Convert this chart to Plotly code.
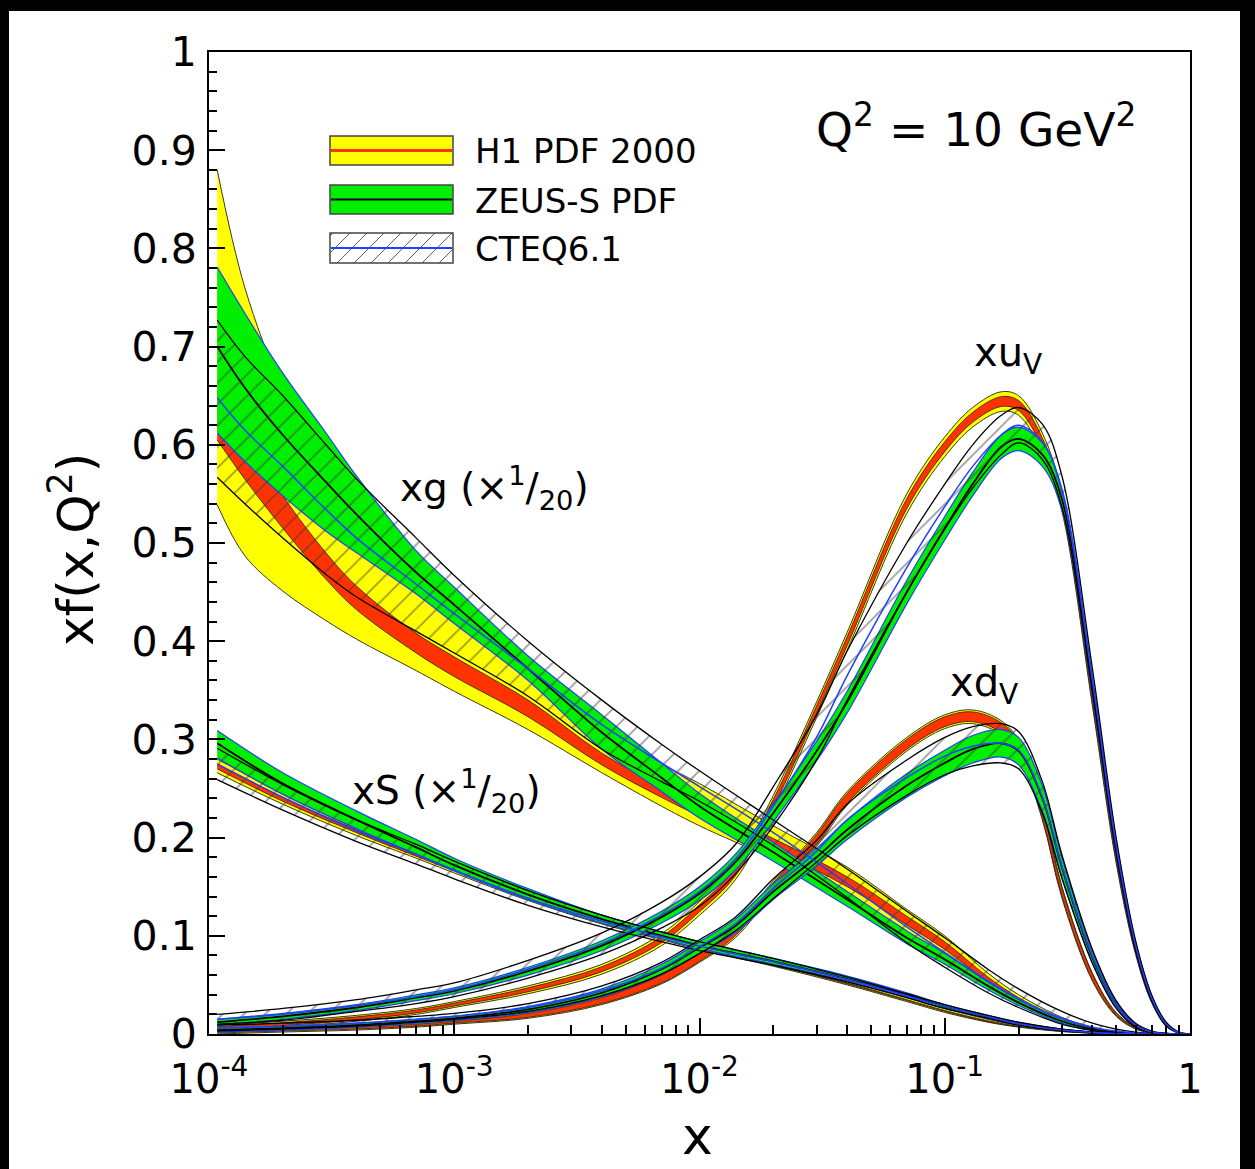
import plotly.graph_objects as go

# ---------------- data ----------------
# x grid for the gluon
x_g = [1.08e-4, 1.4e-4, 2e-4, 3e-4, 4e-4, 7e-4, 1e-3, 2e-3, 4e-3, 7e-3, 1e-2, 2e-2, 4e-2, 7e-2,
       0.1, 0.15, 0.2, 0.3, 0.4, 0.5, 0.6, 0.7, 0.8, 1.0]

# gluon xg/20
h1_g_tot_hi = [0.880, 0.760, 0.655, 0.570, 0.530, 0.460, 0.430, 0.370, 0.310, 0.275, 0.255, 0.212, 0.170, 0.127, 0.100, 0.062, 0.040, 0.017, 0.007, 0.0025, 0.0008, 0.0002, 0.0, 0.0]
h1_g_tot_lo = [0.539, 0.487, 0.451, 0.421, 0.402, 0.370, 0.349, 0.310, 0.266, 0.232, 0.212, 0.178, 0.140, 0.103, 0.080, 0.050, 0.031, 0.012, 0.0045, 0.0015, 0.0005, 0.0001, 0.0, 0.0]
h1_g_exp_hi = [0.655, 0.610, 0.548, 0.490, 0.456, 0.408, 0.384, 0.340, 0.286, 0.252, 0.233, 0.199, 0.160, 0.120, 0.094, 0.058, 0.037, 0.015, 0.006, 0.002, 0.0007, 0.0002, 0.0, 0.0]
h1_g_exp_lo = [0.605, 0.565, 0.515, 0.463, 0.432, 0.388, 0.364, 0.323, 0.274, 0.241, 0.222, 0.188, 0.150, 0.111, 0.086, 0.053, 0.033, 0.013, 0.005, 0.0017, 0.0005, 0.0001, 0.0, 0.0]
zeus_g_hi = [0.781, 0.734, 0.673, 0.612, 0.568, 0.492, 0.455, 0.385, 0.325, 0.276, 0.245, 0.195, 0.145, 0.105, 0.082, 0.053, 0.035, 0.015, 0.006, 0.002, 0.0007, 0.0002, 0.0, 0.0]
zeus_g_lo = [0.612, 0.583, 0.548, 0.512, 0.490, 0.448, 0.418, 0.360, 0.290, 0.247, 0.220, 0.176, 0.130, 0.092, 0.071, 0.045, 0.029, 0.011, 0.004, 0.0013, 0.0004, 0.0001, 0.0, 0.0]
zeus_g_c = [0.700, 0.658, 0.610, 0.562, 0.529, 0.470, 0.437, 0.372, 0.307, 0.261, 0.232, 0.185, 0.137, 0.098, 0.076, 0.049, 0.032, 0.013, 0.005, 0.0016, 0.0005, 0.00015, 0.0, 0.0]
cteq_g_hi = [0.727, 0.690, 0.650, 0.600, 0.565, 0.505, 0.467, 0.400, 0.340, 0.295, 0.268, 0.218, 0.168, 0.125, 0.098, 0.066, 0.046, 0.023, 0.011, 0.005, 0.002, 0.0006, 0.0001, 0.0]
cteq_g_lo = [0.567, 0.540, 0.505, 0.468, 0.445, 0.410, 0.388, 0.344, 0.290, 0.257, 0.237, 0.192, 0.139, 0.093, 0.068, 0.042, 0.027, 0.010, 0.0035, 0.001, 0.0003, 0.0001, 0.0, 0.0]
cteq_g_c = [0.648, 0.615, 0.578, 0.534, 0.505, 0.458, 0.428, 0.372, 0.315, 0.276, 0.252, 0.205, 0.153, 0.109, 0.083, 0.054, 0.036, 0.016, 0.007, 0.003, 0.0011, 0.0003, 0.0, 0.0]

# x grid for the sea
x_s = [1.08e-4, 2e-4, 4e-4, 7e-4, 1e-3, 2e-3, 4e-3, 7e-3, 1e-2, 2e-2, 4e-2, 7e-2,
       0.1, 0.15, 0.2, 0.3, 0.4, 0.5, 0.6, 0.7, 0.8, 1.0]

# sea xS/20
h1_s_tot_hi = [0.280, 0.245, 0.211, 0.186, 0.170, 0.141, 0.117, 0.100, 0.090, 0.073, 0.054, 0.037, 0.026, 0.015, 0.009, 0.0035, 0.0012, 0.0004, 0.0001, 0.0, 0.0, 0.0]
h1_s_tot_lo = [0.266, 0.234, 0.202, 0.179, 0.164, 0.136, 0.112, 0.096, 0.086, 0.069, 0.050, 0.033, 0.022, 0.012, 0.007, 0.0025, 0.0008, 0.0002, 0.0, 0.0, 0.0, 0.0]
h1_s_exp_hi = [0.275, 0.241, 0.208, 0.184, 0.168, 0.139, 0.115, 0.098, 0.088, 0.071, 0.052, 0.035, 0.024, 0.0135, 0.008, 0.003, 0.001, 0.0003, 0.0001, 0.0, 0.0, 0.0]
h1_s_exp_lo = [0.270, 0.237, 0.205, 0.181, 0.166, 0.137, 0.113, 0.097, 0.087, 0.070, 0.051, 0.034, 0.023, 0.0125, 0.0075, 0.0027, 0.0009, 0.0002, 0.0, 0.0, 0.0, 0.0]
zeus_s_hi = [0.309, 0.266, 0.227, 0.198, 0.179, 0.148, 0.121, 0.104, 0.094, 0.077, 0.059, 0.042, 0.030, 0.019, 0.012, 0.005, 0.002, 0.0008, 0.0003, 0.0001, 0.0, 0.0]
zeus_s_lo = [0.281, 0.244, 0.209, 0.183, 0.166, 0.137, 0.113, 0.097, 0.087, 0.071, 0.054, 0.038, 0.026, 0.016, 0.010, 0.004, 0.0013, 0.0005, 0.0002, 0.0, 0.0, 0.0]
zeus_s_c = [0.296, 0.255, 0.218, 0.190, 0.172, 0.142, 0.117, 0.100, 0.090, 0.074, 0.056, 0.040, 0.028, 0.0175, 0.011, 0.0045, 0.0016, 0.0006, 0.0002, 0.0001, 0.0, 0.0]
cteq_s_hi = [0.291, 0.254, 0.218, 0.193, 0.176, 0.146, 0.121, 0.104, 0.094, 0.077, 0.058, 0.041, 0.030, 0.019, 0.012, 0.005, 0.002, 0.0008, 0.0003, 0.0001, 0.0, 0.0]
cteq_s_lo = [0.259, 0.228, 0.196, 0.173, 0.158, 0.131, 0.109, 0.094, 0.085, 0.070, 0.053, 0.037, 0.026, 0.016, 0.009, 0.0035, 0.0012, 0.0004, 0.0001, 0.0, 0.0, 0.0]
cteq_s_c = [0.275, 0.241, 0.207, 0.183, 0.167, 0.138, 0.115, 0.099, 0.0895, 0.0735, 0.0555, 0.039, 0.028, 0.0175, 0.0105, 0.004, 0.0016, 0.0006, 0.0002, 0.0, 0.0, 0.0]

# x grid for valence distributions
x_v = [1.08e-4, 2e-4, 4e-4, 7e-4, 1e-3, 2e-3, 4e-3, 7e-3, 1e-2, 1.4e-2, 2e-2, 3e-2, 4e-2, 7e-2,
       0.1, 0.13, 0.17, 0.2, 0.25, 0.3, 0.4, 0.5, 0.6, 0.7, 0.8, 0.9, 1.0]

# x u_v
h1_uv_tot_hi = [0.009, 0.013, 0.019, 0.026, 0.033, 0.049, 0.071, 0.102, 0.135, 0.173, 0.243, 0.338, 0.409, 0.550, 0.608, 0.638, 0.654, 0.650, 0.612, 0.551, 0.350, 0.186, 0.089, 0.035, 0.010, 0.0018, 0.0]
h1_uv_tot_lo = [0.003, 0.007, 0.013, 0.020, 0.027, 0.041, 0.061, 0.090, 0.121, 0.157, 0.227, 0.322, 0.391, 0.530, 0.588, 0.618, 0.634, 0.630, 0.592, 0.533, 0.334, 0.174, 0.081, 0.031, 0.008, 0.0012, 0.0]
h1_uv_exp_hi = [0.0075, 0.0115, 0.0175, 0.0245, 0.0315, 0.047, 0.0685, 0.099, 0.1315, 0.169, 0.239, 0.334, 0.4045, 0.545, 0.603, 0.633, 0.649, 0.645, 0.607, 0.5465, 0.346, 0.183, 0.087, 0.034, 0.0095, 0.0016, 0.0]
h1_uv_exp_lo = [0.0045, 0.0085, 0.0145, 0.0215, 0.0285, 0.043, 0.0635, 0.093, 0.1245, 0.161, 0.231, 0.326, 0.3955, 0.535, 0.593, 0.623, 0.639, 0.635, 0.597, 0.5375, 0.338, 0.177, 0.083, 0.032, 0.0085, 0.0014, 0.0]
zeus_uv_hi = [0.015, 0.021, 0.030, 0.040, 0.047, 0.068, 0.095, 0.125, 0.150, 0.183, 0.234, 0.298, 0.349, 0.462, 0.527, 0.572, 0.610, 0.618, 0.602, 0.556, 0.364, 0.197, 0.094, 0.038, 0.011, 0.0018, 0.0]
zeus_uv_lo = [0.009, 0.015, 0.024, 0.034, 0.041, 0.060, 0.085, 0.113, 0.136, 0.167, 0.216, 0.278, 0.327, 0.438, 0.503, 0.548, 0.586, 0.594, 0.578, 0.534, 0.346, 0.183, 0.086, 0.034, 0.009, 0.0012, 0.0]
zeus_uv_c = [0.012, 0.018, 0.027, 0.037, 0.044, 0.064, 0.090, 0.119, 0.143, 0.175, 0.225, 0.288, 0.338, 0.450, 0.515, 0.560, 0.598, 0.606, 0.590, 0.545, 0.355, 0.190, 0.090, 0.036, 0.010, 0.0015, 0.0]
cteq_uv_hi = [0.020, 0.026, 0.035, 0.045, 0.052, 0.075, 0.103, 0.134, 0.160, 0.193, 0.252, 0.325, 0.390, 0.500, 0.560, 0.600, 0.630, 0.638, 0.621, 0.569, 0.372, 0.200, 0.095, 0.039, 0.012, 0.002, 0.0]
cteq_uv_lo = [0.010, 0.014, 0.023, 0.031, 0.038, 0.057, 0.081, 0.108, 0.130, 0.163, 0.212, 0.279, 0.340, 0.450, 0.514, 0.556, 0.590, 0.602, 0.585, 0.537, 0.348, 0.184, 0.085, 0.033, 0.008, 0.001, 0.0]
cteq_uv_c = [0.015, 0.020, 0.029, 0.038, 0.045, 0.066, 0.092, 0.121, 0.145, 0.178, 0.232, 0.302, 0.365, 0.475, 0.537, 0.578, 0.610, 0.620, 0.603, 0.553, 0.360, 0.192, 0.090, 0.036, 0.010, 0.0015, 0.0]

# x d_v
h1_dv_tot_hi = [0.004, 0.006, 0.008, 0.011, 0.014, 0.022, 0.038, 0.061, 0.083, 0.110, 0.156, 0.205, 0.247, 0.302, 0.325, 0.330, 0.319, 0.299, 0.232, 0.151, 0.062, 0.022, 0.007, 0.002, 0.0004, 0.0, 0.0]
h1_dv_tot_lo = [0.000, 0.002, 0.004, 0.007, 0.010, 0.016, 0.030, 0.051, 0.073, 0.098, 0.144, 0.191, 0.233, 0.288, 0.311, 0.316, 0.305, 0.285, 0.218, 0.139, 0.054, 0.018, 0.005, 0.001, 0.0002, 0.0, 0.0]
h1_dv_exp_hi = [0.003, 0.005, 0.007, 0.010, 0.013, 0.021, 0.037, 0.060, 0.082, 0.108, 0.154, 0.203, 0.245, 0.300, 0.323, 0.328, 0.317, 0.297, 0.230, 0.149, 0.061, 0.021, 0.0065, 0.0017, 0.0003, 0.0, 0.0]
h1_dv_exp_lo = [0.001, 0.003, 0.005, 0.008, 0.011, 0.017, 0.031, 0.052, 0.074, 0.100, 0.146, 0.193, 0.235, 0.290, 0.313, 0.318, 0.307, 0.287, 0.220, 0.141, 0.055, 0.019, 0.0055, 0.0013, 0.0002, 0.0, 0.0]
zeus_dv_hi = [0.006, 0.008, 0.011, 0.015, 0.018, 0.028, 0.046, 0.071, 0.094, 0.117, 0.153, 0.189, 0.218, 0.265, 0.289, 0.304, 0.310, 0.302, 0.253, 0.180, 0.084, 0.033, 0.010, 0.0025, 0.0005, 0.0, 0.0]
zeus_dv_lo = [0.002, 0.004, 0.007, 0.011, 0.014, 0.022, 0.038, 0.061, 0.082, 0.103, 0.137, 0.171, 0.198, 0.241, 0.263, 0.276, 0.282, 0.274, 0.227, 0.160, 0.072, 0.027, 0.008, 0.0015, 0.0003, 0.0, 0.0]
zeus_dv_c = [0.004, 0.006, 0.009, 0.013, 0.016, 0.025, 0.042, 0.066, 0.088, 0.110, 0.145, 0.180, 0.208, 0.253, 0.276, 0.290, 0.296, 0.288, 0.240, 0.170, 0.078, 0.030, 0.009, 0.002, 0.0004, 0.0, 0.0]
cteq_dv_hi = [0.009, 0.011, 0.014, 0.018, 0.021, 0.031, 0.049, 0.073, 0.096, 0.119, 0.158, 0.197, 0.234, 0.279, 0.302, 0.313, 0.316, 0.308, 0.257, 0.183, 0.086, 0.034, 0.011, 0.003, 0.0006, 0.0, 0.0]
cteq_dv_lo = [0.003, 0.005, 0.008, 0.012, 0.015, 0.023, 0.039, 0.061, 0.082, 0.105, 0.138, 0.175, 0.202, 0.243, 0.264, 0.273, 0.276, 0.270, 0.225, 0.159, 0.072, 0.026, 0.007, 0.0013, 0.0002, 0.0, 0.0]
cteq_dv_c = [0.006, 0.008, 0.011, 0.015, 0.018, 0.027, 0.044, 0.067, 0.089, 0.112, 0.148, 0.186, 0.218, 0.261, 0.283, 0.293, 0.296, 0.289, 0.241, 0.171, 0.079, 0.030, 0.009, 0.002, 0.0004, 0.0, 0.0]

x_tick_vals = [1e-4, 1e-3, 1e-2, 1e-1, 1]
x_tick_text = ["10<sup>-4</sup>", "10<sup>-3</sup>", "10<sup>-2</sup>", "10<sup>-1</sup>", "1"]
legend_labels = ["H1 PDF 2000", "ZEUS-S PDF", "CTEQ6.1"]

# ---------------- styling ----------------
YELLOW = "#ffff00"
RED = "#ff3300"
GREEN = "#00ee00"
BLUE = "#2040ff"
FONT = "DejaVu Sans, Liberation Sans, Arial, sans-serif"
SPL = dict(shape="spline", smoothing=1.0)

fig = go.Figure()


def band(x, lo, hi, fillcolor, edge, edge_w, pattern=None):
    fig.add_trace(go.Scatter(x=x, y=lo, mode="lines",
                             line=dict(color=edge, width=edge_w, **SPL),
                             hoverinfo="skip", showlegend=False))
    kw = dict(fill="tonexty", fillcolor=fillcolor)
    if pattern is not None:
        kw["fillpattern"] = pattern
    fig.add_trace(go.Scatter(x=x, y=hi, mode="lines",
                             line=dict(color=edge, width=edge_w, **SPL),
                             hoverinfo="skip", showlegend=False, **kw))


def curve(x, y, color, w):
    fig.add_trace(go.Scatter(x=x, y=y, mode="lines",
                             line=dict(color=color, width=w, **SPL),
                             hoverinfo="skip", showlegend=False))


# H1: yellow total band, red experimental band
for xx, lo, hi in [(x_g, h1_g_tot_lo, h1_g_tot_hi), (x_s, h1_s_tot_lo, h1_s_tot_hi),
                   (x_v, h1_uv_tot_lo, h1_uv_tot_hi), (x_v, h1_dv_tot_lo, h1_dv_tot_hi)]:
    band(xx, lo, hi, YELLOW, "#3a3a1a", 1.0)
for xx, lo, hi in [(x_g, h1_g_exp_lo, h1_g_exp_hi), (x_s, h1_s_exp_lo, h1_s_exp_hi),
                   (x_v, h1_uv_exp_lo, h1_uv_exp_hi), (x_v, h1_dv_exp_lo, h1_dv_exp_hi)]:
    band(xx, lo, hi, RED, "#202020", 0.8)

# ZEUS-S: green band, blue edges, black central line
for xx, lo, hi, c in [(x_g, zeus_g_lo, zeus_g_hi, zeus_g_c), (x_s, zeus_s_lo, zeus_s_hi, zeus_s_c),
                      (x_v, zeus_uv_lo, zeus_uv_hi, zeus_uv_c), (x_v, zeus_dv_lo, zeus_dv_hi, zeus_dv_c)]:
    band(xx, lo, hi, GREEN, BLUE, 1.2)
    curve(xx, c, "black", 1.8)

# CTEQ6.1: hatched band, black outline, blue central line
hatch = dict(shape="/", size=15, solidity=0.12, fgcolor="#3a3a3a",
             bgcolor="rgba(0,0,0,0)", fillmode="overlay")
for xx, lo, hi, c in [(x_g, cteq_g_lo, cteq_g_hi, cteq_g_c), (x_s, cteq_s_lo, cteq_s_hi, cteq_s_c),
                      (x_v, cteq_uv_lo, cteq_uv_hi, cteq_uv_c), (x_v, cteq_dv_lo, cteq_dv_hi, cteq_dv_c)]:
    band(xx, lo, hi, "rgba(0,0,0,0)", "black", 1.3, pattern=hatch)
    curve(xx, c, BLUE, 1.5)

# ---------------- layout helpers (pixel -> paper) ----------------
W, H = 1255, 1169
L, R, T, B = 209, 1190, 52, 1034


def PX(p):
    return (p - L) / (R - L)


def PY(p):
    return (B - p) / (B - T)


shapes = [
    dict(type="rect", xref="paper", yref="paper", x0=PX(9), x1=PX(1240), y0=PY(1200), y1=PY(11),
         fillcolor="white", line=dict(width=0), layer="below"),
]

# legend boxes
bx0, bx1 = 330, 453
rows = [(136, 165), (185, 214), (233, 263)]
shapes.append(dict(type="rect", xref="paper", yref="paper", x0=PX(bx0), x1=PX(bx1),
                   y0=PY(rows[0][1]), y1=PY(rows[0][0]), fillcolor=YELLOW,
                   line=dict(color="#444", width=1.5)))
shapes.append(dict(type="line", xref="paper", yref="paper", x0=PX(bx0 + 1), x1=PX(bx1 - 1),
                   y0=PY(sum(rows[0]) / 2), y1=PY(sum(rows[0]) / 2), line=dict(color=RED, width=3)))
shapes.append(dict(type="rect", xref="paper", yref="paper", x0=PX(bx0), x1=PX(bx1),
                   y0=PY(rows[1][1]), y1=PY(rows[1][0]), fillcolor=GREEN,
                   line=dict(color="#444", width=1.5)))
shapes.append(dict(type="line", xref="paper", yref="paper", x0=PX(bx0 + 1), x1=PX(bx1 - 1),
                   y0=PY(sum(rows[1]) / 2), y1=PY(sum(rows[1]) / 2), line=dict(color="black", width=2)))
# hatched legend box
r0, r1 = rows[2]
hh = r1 - r0
for k in range(9):
    xa = bx0 + 3 + k * 17 - hh
    xb = xa + hh
    ya, yb = r1, r0
    if xa < bx0:
        ya = r1 - (bx0 - xa)
        xa = bx0
    if xb > bx1:
        yb = r0 + (xb - bx1)
        xb = bx1
    if xb > xa:
        shapes.append(dict(type="line", xref="paper", yref="paper", x0=PX(xa), x1=PX(xb),
                           y0=PY(ya), y1=PY(yb), line=dict(color="#606060", width=1)))
shapes.append(dict(type="rect", xref="paper", yref="paper", x0=PX(bx0), x1=PX(bx1),
                   y0=PY(r1), y1=PY(r0), fillcolor="rgba(0,0,0,0)",
                   line=dict(color="#444", width=1.5)))
shapes.append(dict(type="line", xref="paper", yref="paper", x0=PX(bx0 + 1), x1=PX(bx1 - 1),
                   y0=PY((r0 + r1) / 2), y1=PY((r0 + r1) / 2), line=dict(color=BLUE, width=2)))

annotations = []
for lab, (a, b) in zip(legend_labels, rows):
    annotations.append(dict(text=lab, xref="paper", yref="paper", x=PX(473), y=PY((a + b) / 2 + 1),
                            xanchor="left", yanchor="middle", showarrow=False,
                            font=dict(size=34, color="black", family=FONT)))


def note(text, x, y, size, xanchor="left", angle=0):
    annotations.append(dict(text=text, xref="paper", yref="paper", x=PX(x), y=PY(y),
                            xanchor=xanchor, yanchor="middle", showarrow=False, textangle=angle,
                            font=dict(size=size, color="black", family=FONT)))


note("Q<sup>2</sup> = 10 GeV<sup>2</sup>", 814, 126, 47)
note("xg (×<sup>1</sup>/<sub>20</sub>)", 398, 488, 39)
note("xS (×<sup>1</sup>/<sub>20</sub>)", 350, 791, 39)
note("xu<sub>V</sub>", 972, 355, 40)
note("xd<sub>V</sub>", 948, 685, 40)
note("x", 697, 1136, 52, xanchor="center")
note("xf(x,Q<sup>2</sup>)", 72, 550, 50, xanchor="center", angle=-90)

fig.update_layout(
    width=W, height=H,
    margin=dict(l=L, r=W - R, t=T, b=H - B, pad=0),
    paper_bgcolor="black", plot_bgcolor="white",
    showlegend=False,
    shapes=shapes, annotations=annotations,
    font=dict(family=FONT, color="black"),
    xaxis=dict(type="log", range=[-4, 0], tickvals=x_tick_vals, ticktext=x_tick_text,
               ticks="inside", ticklen=16, tickwidth=2, tickcolor="black",
               showline=True, linewidth=2, linecolor="black", mirror=True,
               showgrid=False, zeroline=False, ticklabelstandoff=9,
               tickfont=dict(size=40, family=FONT, color="black"),
               minor=dict(ticks="inside", ticklen=9, tickwidth=2, tickcolor="black",
                          tickvals=[m * 10 ** e for e in range(-4, 0) for m in range(2, 10)],
                          showgrid=False)),
    yaxis=dict(range=[0, 1], tick0=0, dtick=0.1,
               ticks="inside", ticklen=16, tickwidth=2, tickcolor="black",
               showline=True, linewidth=2, linecolor="black", mirror=True,
               showgrid=False, zeroline=False, ticklabelstandoff=2,
               tickfont=dict(size=41, family=FONT, color="black"),
               minor=dict(ticks="inside", ticklen=8, tickwidth=2, tickcolor="black",
                          dtick=0.02, showgrid=False)),
)

fig.write_html("out.html", config={"displayModeBar": False},
               post_script="document.body.style.margin='0';document.body.style.background='black';")
